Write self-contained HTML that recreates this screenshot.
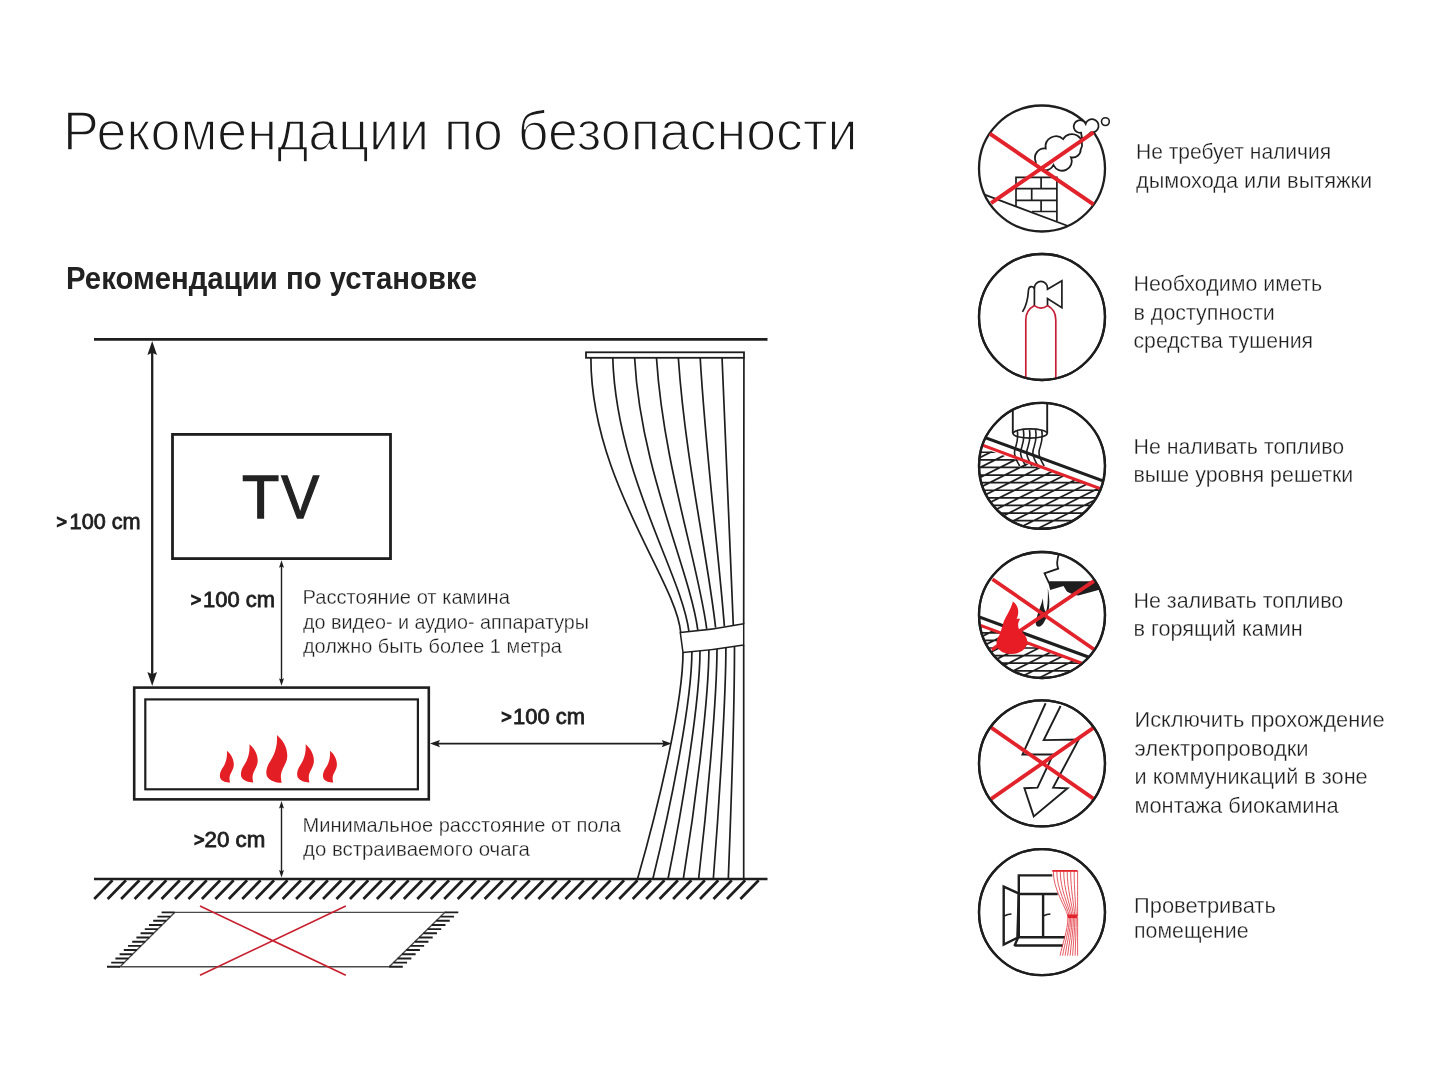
<!DOCTYPE html>
<html><head><meta charset="utf-8"><title>Рекомендации по безопасности</title>
<style>
html,body{margin:0;padding:0;background:#fff;width:1440px;height:1080px;overflow:hidden}
svg{display:block;will-change:transform}
text{font-family:"Liberation Sans",sans-serif}
</style></head><body>
<svg width="1440" height="1080" viewBox="0 0 1440 1080">
<defs><clipPath id="c0"><circle cx="1042.0" cy="168.5" r="63.0"/></clipPath>
<clipPath id="c1"><circle cx="1042.0" cy="317.0" r="63.0"/></clipPath>
<clipPath id="c2"><circle cx="1042.0" cy="465.8" r="63.0"/></clipPath>
<clipPath id="c3"><circle cx="1042.0" cy="615.0" r="63.0"/></clipPath>
<clipPath id="c4"><circle cx="1042.0" cy="763.4" r="63.0"/></clipPath>
<clipPath id="c5"><circle cx="1042.0" cy="912.2" r="63.0"/></clipPath></defs>
<rect width="1440" height="1080" fill="#fff"/>
<text x="63" y="149.7" font-size="56.1" font-weight="normal" fill="#1a1a1a" textLength="794.6" lengthAdjust="spacingAndGlyphs" stroke="#fff" stroke-width="1.5">Рекомендации по безопасности</text>
<text x="66" y="288.5" font-size="30.5" font-weight="bold" fill="#222" textLength="411" lengthAdjust="spacingAndGlyphs">Рекомендации по установке</text>
<line x1="94" y1="339.3" x2="767.5" y2="339.3" stroke="#1e1e1e" stroke-width="2.8"/>
<line x1="94" y1="879" x2="767.5" y2="879" stroke="#1e1e1e" stroke-width="2.7"/>
<path d="M94.20,899 L112.50,880.3 M107.66,899 L125.96,880.3 M121.12,899 L139.43,880.3 M134.59,899 L152.89,880.3 M148.05,899 L166.35,880.3 M161.51,899 L179.81,880.3 M174.97,899 L193.28,880.3 M188.44,899 L206.74,880.3 M201.90,899 L220.20,880.3 M215.36,899 L233.66,880.3 M228.82,899 L247.12,880.3 M242.29,899 L260.59,880.3 M255.75,899 L274.05,880.3 M269.21,899 L287.51,880.3 M282.68,899 L300.98,880.3 M296.14,899 L314.44,880.3 M309.60,899 L327.90,880.3 M323.06,899 L341.36,880.3 M336.52,899 L354.82,880.3 M349.99,899 L368.29,880.3 M363.45,899 L381.75,880.3 M376.91,899 L395.21,880.3 M390.37,899 L408.67,880.3 M403.84,899 L422.14,880.3 M417.30,899 L435.60,880.3 M430.76,899 L449.06,880.3 M444.22,899 L462.52,880.3 M457.69,899 L475.99,880.3 M471.15,899 L489.45,880.3 M484.61,899 L502.91,880.3 M498.07,899 L516.37,880.3 M511.54,899 L529.84,880.3 M525.00,899 L543.30,880.3 M538.46,899 L556.76,880.3 M551.92,899 L570.22,880.3 M565.39,899 L583.69,880.3 M578.85,899 L597.15,880.3 M592.31,899 L610.61,880.3 M605.77,899 L624.07,880.3 M619.24,899 L637.54,880.3 M632.70,899 L651.00,880.3 M646.16,899 L664.46,880.3 M659.62,899 L677.92,880.3 M673.09,899 L691.39,880.3 M686.55,899 L704.85,880.3 M700.01,899 L718.31,880.3 M713.48,899 L731.77,880.3 M726.94,899 L745.24,880.3 M740.40,899 L758.70,880.3" stroke="#1e1e1e" stroke-width="2.7" stroke-linecap="butt"/>
<rect x="172.5" y="434.4" width="218" height="124.2" fill="none" stroke="#1e1e1e" stroke-width="2.8"/>
<text x="260.55" y="517.7" font-size="61.1" text-anchor="middle" fill="#222" stroke="#222" stroke-width="1.3">T</text>
<text x="0" y="517.7" transform="translate(300.3,0) scale(0.93,1)" font-size="61.1" text-anchor="middle" fill="#222" stroke="#222" stroke-width="1.3">V</text>
<rect x="134.2" y="687.6" width="294.6" height="111.75" fill="none" stroke="#1e1e1e" stroke-width="2.6"/>
<rect x="145.3" y="699.4" width="272.6" height="89.9" fill="none" stroke="#1e1e1e" stroke-width="2.2"/>
<path transform="translate(226.9,750.8) scale(0.665)" d="M0,0 C6,5 11,13 10.3,22 C9.8,29 4.5,34 4,40 C3.8,44 4.5,46 4.8,47.8 C0,48 -7,46 -9.5,42 C-12,38 -10,31 -6.5,26 C-3,21 1,12 0,0 Z" fill="#e31e24"/>
<path transform="translate(249.4,744.2) scale(0.8)" d="M0,0 C6,5 11,13 10.3,22 C9.8,29 4.5,34 4,40 C3.8,44 4.5,46 4.8,47.8 C0,48 -7,46 -9.5,42 C-12,38 -10,31 -6.5,26 C-3,21 1,12 0,0 Z" fill="#e31e24"/>
<path transform="translate(276.9,734.9) scale(1.0)" d="M0,0 C6,5 11,13 10.3,22 C9.8,29 4.5,34 4,40 C3.8,44 4.5,46 4.8,47.8 C0,48 -7,46 -9.5,42 C-12,38 -10,31 -6.5,26 C-3,21 1,12 0,0 Z" fill="#e31e24"/>
<path transform="translate(305.6,744.2) scale(0.8)" d="M0,0 C6,5 11,13 10.3,22 C9.8,29 4.5,34 4,40 C3.8,44 4.5,46 4.8,47.8 C0,48 -7,46 -9.5,42 C-12,38 -10,31 -6.5,26 C-3,21 1,12 0,0 Z" fill="#e31e24"/>
<path transform="translate(330,750.8) scale(0.665)" d="M0,0 C6,5 11,13 10.3,22 C9.8,29 4.5,34 4,40 C3.8,44 4.5,46 4.8,47.8 C0,48 -7,46 -9.5,42 C-12,38 -10,31 -6.5,26 C-3,21 1,12 0,0 Z" fill="#e31e24"/>
<line x1="152.2" y1="350" x2="152.2" y2="676" stroke="#1e1e1e" stroke-width="2.3"/>
<path d="M152.2,341 L147.39999999999998,355 L152.2,352.7 L157.0,355 Z M152.2,686 L147.39999999999998,672 L152.2,674.3 L157.0,672 Z" fill="#1e1e1e"/>
<line x1="281.5" y1="565" x2="281.5" y2="682" stroke="#1e1e1e" stroke-width="1.4"/>
<path d="M281.5,560.3 L279.0,567.8 L281.5,566.5999999999999 L284.0,567.8 Z M281.5,685.8 L279.0,678.3 L281.5,679.5 L284.0,678.3 Z" fill="#1e1e1e"/>
<line x1="281.5" y1="806" x2="281.5" y2="874" stroke="#1e1e1e" stroke-width="1.4"/>
<path d="M281.5,801 L279.0,808.5 L281.5,807.3 L284.0,808.5 Z M281.5,877.5 L279.0,870.0 L281.5,871.2 L284.0,870.0 Z" fill="#1e1e1e"/>
<line x1="436" y1="743.6" x2="665" y2="743.6" stroke="#1e1e1e" stroke-width="1.9"/>
<path d="M430,743.6 L440,739.9 L438.2,743.6 L440,747.3000000000001 Z M671.7,743.6 L661.7,739.9 L663.5,743.6 L661.7,747.3000000000001 Z" fill="#1e1e1e"/>
<text x="56.6" y="527.9" font-size="18" fill="#1e1e1e" stroke="#1e1e1e" stroke-width="1.1">&gt;</text>
<text x="69.6" y="528.8" font-size="22" font-weight="normal" fill="#1e1e1e" textLength="70.99999999999999" lengthAdjust="spacingAndGlyphs" stroke="#1e1e1e" stroke-width="0.8">100 cm</text>
<text x="190.70000000000002" y="606.4" font-size="18" fill="#1e1e1e" stroke="#1e1e1e" stroke-width="1.1">&gt;</text>
<text x="203.0" y="607.3" font-size="22" font-weight="normal" fill="#1e1e1e" textLength="72.00000000000003" lengthAdjust="spacingAndGlyphs" stroke="#1e1e1e" stroke-width="0.8">100 cm</text>
<text x="501.15" y="723.3000000000001" font-size="18" fill="#1e1e1e" stroke="#1e1e1e" stroke-width="1.1">&gt;</text>
<text x="513.0" y="724.2" font-size="22" font-weight="normal" fill="#1e1e1e" textLength="71.99999999999997" lengthAdjust="spacingAndGlyphs" stroke="#1e1e1e" stroke-width="0.8">100 cm</text>
<text x="194.1" y="845.6" font-size="18" fill="#1e1e1e" stroke="#1e1e1e" stroke-width="1.1">&gt;</text>
<text x="204.60000000000002" y="846.5" font-size="22" font-weight="normal" fill="#1e1e1e" textLength="60.79999999999999" lengthAdjust="spacingAndGlyphs" stroke="#1e1e1e" stroke-width="0.8">20 cm</text>
<text x="302.5" y="604.4" font-size="21.0" font-weight="normal" fill="#1e1e1e" textLength="207.4" lengthAdjust="spacingAndGlyphs" stroke="#fff" stroke-width="0.3">Расстояние от камина</text>
<text x="303" y="628.9" font-size="21.0" font-weight="normal" fill="#1e1e1e" textLength="286" lengthAdjust="spacingAndGlyphs" stroke="#fff" stroke-width="0.3">до видео- и аудио- аппаратуры</text>
<text x="303" y="653.3" font-size="21.0" font-weight="normal" fill="#1e1e1e" textLength="258.8" lengthAdjust="spacingAndGlyphs" stroke="#fff" stroke-width="0.3">должно быть более 1 метра</text>
<text x="302.5" y="831.7" font-size="21.0" font-weight="normal" fill="#1e1e1e" textLength="318.4" lengthAdjust="spacingAndGlyphs" stroke="#fff" stroke-width="0.3">Минимальное расстояние от пола</text>
<text x="303" y="855.5" font-size="21.0" font-weight="normal" fill="#1e1e1e" textLength="226.8" lengthAdjust="spacingAndGlyphs" stroke="#fff" stroke-width="0.3">до встраиваемого очага</text>
<path d="M174.6,912.4 L444.7,912.4 L389.2,966.8 L120,966.8 Z" fill="none" stroke="#4a4a4a" stroke-width="1.4"/>
<path d="M161.60,912.40 L174.60,912.40 M444.70,912.40 L458.30,912.40 M157.40,916.58 L170.40,916.58 M440.43,916.58 L454.03,916.58 M153.20,920.77 L166.20,920.77 M436.16,920.77 L449.76,920.77 M149.00,924.95 L162.00,924.95 M431.89,924.95 L445.49,924.95 M144.80,929.14 L157.80,929.14 M427.62,929.14 L441.22,929.14 M140.60,933.32 L153.60,933.32 M423.35,933.32 L436.95,933.32 M136.40,937.51 L149.40,937.51 M419.08,937.51 L432.68,937.51 M132.20,941.69 L145.20,941.69 M414.82,941.69 L428.42,941.69 M128.00,945.88 L141.00,945.88 M410.55,945.88 L424.15,945.88 M123.80,950.06 L136.80,950.06 M406.28,950.06 L419.88,950.06 M119.60,954.25 L132.60,954.25 M402.01,954.25 L415.61,954.25 M115.40,958.43 L128.40,958.43 M397.74,958.43 L411.34,958.43 M111.20,962.62 L124.20,962.62 M393.47,962.62 L407.07,962.62 M107.00,966.80 L120.00,966.80 M389.20,966.80 L402.80,966.80" stroke="#1e1e1e" stroke-width="1.9"/>
<path d="M200,906.1 L345.8,975.2 M200,975.2 L345.8,906.1" stroke="#c8202f" stroke-width="1.7"/>
<rect x="586" y="352.3" width="158" height="5.5" fill="#fff" stroke="#1e1e1e" stroke-width="1.8"/>
<path d="M590.90,358 C590.90,480.00 676.03,580.00 680.70,632.54 M683.00,652.60 C683.00,700.60 660.25,800 637.50,879 M612.76,358 C616.39,475.59 681.88,574.32 688.90,631.39 M691.90,651.47 C691.90,699.47 672.35,800 652.80,879 M634.62,358 C640.64,471.06 689.44,568.41 697.80,630.14 M700.00,650.44 C700.00,698.44 684.00,800 668.00,879 M656.48,358 C663.65,466.41 698.03,562.26 706.70,628.89 M708.90,649.31 C708.90,697.31 696.10,800 683.30,879 M678.34,358 C685.44,461.65 707.67,555.86 715.60,627.64 M717.00,648.29 C717.00,696.29 707.80,800 698.60,879 M700.20,358 C705.96,456.76 718.28,549.24 724.40,626.41 M725.90,647.16 C725.90,695.16 719.60,800 713.30,879 M722.06,358 C725.27,451.76 730.01,542.38 733.30,625.16 M734.50,646.07 C734.50,694.07 731.40,800 728.30,879 M743.92,358 C743.85,446.57 743.77,535.13 743.70,623.70 M743.70,644.90 C743.70,692.90 743.70,800 743.70,879" fill="none" stroke="#1e1e1e" stroke-width="1.7"/>
<path d="M680.3,632.6 Q712,630 743.7,623.7 L743.7,644.9 Q713,650 683,652.6 Z" fill="#fff" stroke="#1e1e1e" stroke-width="1.5"/>
<text x="1136" y="159.4" font-size="22.1" font-weight="normal" fill="#1e1e1e" textLength="195.20000000000002" lengthAdjust="spacingAndGlyphs" stroke="#fff" stroke-width="0.3">Не требует наличия</text>
<text x="1136" y="187.8" font-size="22.1" font-weight="normal" fill="#1e1e1e" textLength="236.20000000000002" lengthAdjust="spacingAndGlyphs" stroke="#fff" stroke-width="0.3">дымохода или вытяжки</text>
<text x="1133.5" y="290.7" font-size="22.1" font-weight="normal" fill="#1e1e1e" textLength="188.60000000000002" lengthAdjust="spacingAndGlyphs" stroke="#fff" stroke-width="0.3">Необходимо иметь</text>
<text x="1133.5" y="319.5" font-size="22.1" font-weight="normal" fill="#1e1e1e" textLength="141.3" lengthAdjust="spacingAndGlyphs" stroke="#fff" stroke-width="0.3">в доступности</text>
<text x="1133.5" y="348.3" font-size="22.1" font-weight="normal" fill="#1e1e1e" textLength="179.5" lengthAdjust="spacingAndGlyphs" stroke="#fff" stroke-width="0.3">средства тушения</text>
<text x="1133.5" y="453.7" font-size="22.1" font-weight="normal" fill="#1e1e1e" textLength="210.60000000000002" lengthAdjust="spacingAndGlyphs" stroke="#fff" stroke-width="0.3">Не наливать топливо</text>
<text x="1133.5" y="482" font-size="22.1" font-weight="normal" fill="#1e1e1e" textLength="219.8" lengthAdjust="spacingAndGlyphs" stroke="#fff" stroke-width="0.3">выше уровня решетки</text>
<text x="1133.5" y="608" font-size="22.1" font-weight="normal" fill="#1e1e1e" textLength="209.8" lengthAdjust="spacingAndGlyphs" stroke="#fff" stroke-width="0.3">Не заливать топливо</text>
<text x="1133.5" y="636.3" font-size="22.1" font-weight="normal" fill="#1e1e1e" textLength="169.3" lengthAdjust="spacingAndGlyphs" stroke="#fff" stroke-width="0.3">в горящий камин</text>
<text x="1134.5" y="727.2" font-size="22.1" font-weight="normal" fill="#1e1e1e" textLength="250.10000000000002" lengthAdjust="spacingAndGlyphs" stroke="#fff" stroke-width="0.3">Исключить прохождение</text>
<text x="1134.5" y="755.9" font-size="22.1" font-weight="normal" fill="#1e1e1e" textLength="174.10000000000002" lengthAdjust="spacingAndGlyphs" stroke="#fff" stroke-width="0.3">электропроводки</text>
<text x="1134.5" y="784" font-size="22.1" font-weight="normal" fill="#1e1e1e" textLength="233.20000000000002" lengthAdjust="spacingAndGlyphs" stroke="#fff" stroke-width="0.3">и коммуникаций в зоне</text>
<text x="1134.5" y="813" font-size="22.1" font-weight="normal" fill="#1e1e1e" textLength="204.10000000000002" lengthAdjust="spacingAndGlyphs" stroke="#fff" stroke-width="0.3">монтажа биокамина</text>
<text x="1134" y="912.7" font-size="22.1" font-weight="normal" fill="#1e1e1e" textLength="141.8" lengthAdjust="spacingAndGlyphs" stroke="#fff" stroke-width="0.3">Проветривать</text>
<text x="1134" y="938.1" font-size="22.1" font-weight="normal" fill="#1e1e1e" textLength="114.6" lengthAdjust="spacingAndGlyphs" stroke="#fff" stroke-width="0.3">помещение</text>
<circle cx="1042.0" cy="168.5" r="63.0" fill="#fff" stroke="#1e1e1e" stroke-width="2.3"/>
<circle cx="1042.0" cy="317.0" r="63.0" fill="#fff" stroke="#1e1e1e" stroke-width="2.3"/>
<circle cx="1042.0" cy="465.8" r="63.0" fill="#fff" stroke="#1e1e1e" stroke-width="2.3"/>
<circle cx="1042.0" cy="615.0" r="63.0" fill="#fff" stroke="#1e1e1e" stroke-width="2.3"/>
<circle cx="1042.0" cy="763.4" r="63.0" fill="#fff" stroke="#1e1e1e" stroke-width="2.3"/>
<circle cx="1042.0" cy="912.2" r="63.0" fill="#fff" stroke="#1e1e1e" stroke-width="2.3"/>
<g clip-path="url(#c0)">
<path d="M975,191 L1072,227.5" stroke="#1e1e1e" stroke-width="1.8" fill="none"/>
<path d="M1016,206 L1016,177.4 L1056.9,177.4 L1056.9,221 M1016,188.6 L1056.9,188.6 M1016,200.4 L1056.9,200.4 M1032,211.5 L1056.9,211.5 M1041.1,177.4 L1041.1,188.6 M1031.7,188.6 L1031.7,200.4 M1041.1,200.4 L1041.1,211.5" stroke="#1e1e1e" stroke-width="1.7" fill="none"/>
</g>
<path d="M1035.5,161 A9.5,9.5 0 0 1 1045.7,148.5 A10.5,10.5 0 0 1 1063.2,139.1 A9.8,9.8 0 0 1 1080.7,149.5 A8,8 0 0 1 1071,157.3 A8.6,8.6 0 0 1 1053.5,165 A9.5,9.5 0 0 1 1035.5,161 Z" fill="#fff" stroke="#1e1e1e" stroke-width="1.8"/>
<path d="M1082,138.5 L1081.1,132.7 A6.3,6.3 0 1 1 1085.7,123.8 A6.6,6.6 0 1 1 1091.05,132.3 L1086,137 Z" fill="#fff" stroke="#1e1e1e" stroke-width="1.8"/>
<circle cx="1105.4" cy="121.6" r="3.9" fill="#fff" stroke="#1e1e1e" stroke-width="1.6"/>
<path d="M989.8,133.7 L1093.5,204.4 M991.1,203.1 L1093.5,132.4" stroke="#e3232b" stroke-width="4"/>
<g clip-path="url(#c1)">
<path d="M1025.8,380 L1025.8,320 C1025.8,312 1030,308 1034.4,305.6 Q1041.1,310.5 1047.5,305.6 C1052,308 1055.8,312 1055.8,320 L1055.8,380" fill="none" stroke="#c41f36" stroke-width="1.7"/>
</g>
<path d="M1034.4,305.3 L1034.4,288 A6.55,6.55 0 0 1 1047.5,288 L1047.5,289.2 L1061.9,280.8 L1061.9,307.8 L1047.5,298.6 L1047.5,305.3" fill="none" stroke="#1e1e1e" stroke-width="1.7" stroke-linejoin="miter"/>
<path d="M1034.4,288.5 C1033,286 1029,285.5 1028.5,290 C1028,298 1027,305 1022.5,311.9" fill="none" stroke="#1e1e1e" stroke-width="1.7"/>
<clipPath id="g3"><path d="M970,444 L1100.3,488.9 L1120,600 L970,600 Z"/></clipPath>
<g clip-path="url(#c2)"><g clip-path="url(#g3)">
<path d="M970,437.05 L1115,437.05 M970,444.65 L1115,444.65 M970,452.25 L1115,452.25 M970,459.85 L1115,459.85 M970,467.45 L1115,467.45 M970,475.05 L1115,475.05 M970,482.65 L1115,482.65 M970,490.25 L1115,490.25 M970,497.85 L1115,497.85 M970,505.45 L1115,505.45 M970,513.05 L1115,513.05 M970,520.65 L1115,520.65 M970,528.25 L1115,528.25 M970,535.85 L1115,535.85 M970,543.45 L1115,543.45 M970,551.05 L1115,551.05 M815,540 L1015,440 M835,540 L1035,440 M855,540 L1055,440 M875,540 L1075,440 M895,540 L1095,440 M915,540 L1115,440 M935,540 L1135,440 M955,540 L1155,440 M975,540 L1175,440 M995,540 L1195,440 M1015,540 L1215,440 M1035,540 L1235,440 M1055,540 L1255,440 M1075,540 L1275,440 M1095,540 L1295,440 M1115,540 L1315,440 M1135,540 L1335,440 M1155,540 L1355,440 M1175,540 L1375,440 M1195,540 L1395,440" stroke="#1e1e1e" stroke-width="1.7" fill="none"/>
</g>
<path d="M1012.8,390 L1012.8,433.5 M1047.2,390 L1047.2,433.5" stroke="#1e1e1e" stroke-width="1.9" fill="none"/>
<ellipse cx="1030.1" cy="433.5" rx="17" ry="4.6" fill="#fff" stroke="#1e1e1e" stroke-width="1.7"/>
<path d="M1017.20,430 C1018.20,436 1017.70,441 1015.70,447 C1013.70,452 1013.70,456 1019.70,466 M1023.32,430 C1024.32,436 1023.82,441 1021.82,447 C1019.82,452 1019.82,456 1025.82,466 M1029.44,430 C1030.44,436 1029.94,441 1027.94,447 C1025.94,452 1025.94,456 1031.94,466 M1035.56,430 C1036.56,436 1036.06,441 1034.06,447 C1032.06,452 1032.06,456 1038.06,466 M1041.68,430 C1042.68,436 1042.18,441 1040.18,447 C1038.18,452 1038.18,456 1044.18,466" stroke="#1e1e1e" stroke-width="1.6" fill="none"/>
<path d="M970,432 L1110,483.5" stroke="#1e1e1e" stroke-width="3"/>
<path d="M970,440.6 L1110,492.2" stroke="#e3232b" stroke-width="3.1"/>
</g>
<clipPath id="g4"><path d="M970,621.5 L1100,670 L1120,700 L970,700 Z"/></clipPath>
<g clip-path="url(#c3)"><g clip-path="url(#g4)">
<path d="M970,625.20 L1115,625.20 M970,632.80 L1115,632.80 M970,640.40 L1115,640.40 M970,648.00 L1115,648.00 M970,655.60 L1115,655.60 M970,663.20 L1115,663.20 M970,670.80 L1115,670.80 M970,678.40 L1115,678.40 M970,686.00 L1115,686.00 M970,693.60 L1115,693.60 M970,701.20 L1115,701.20 M815,690 L1015,590 M835,690 L1035,590 M855,690 L1055,590 M875,690 L1075,590 M895,690 L1095,590 M915,690 L1115,590 M935,690 L1135,590 M955,690 L1155,590 M975,690 L1175,590 M995,690 L1195,590 M1015,690 L1215,590 M1035,690 L1235,590 M1055,690 L1255,590 M1075,690 L1275,590 M1095,690 L1295,590 M1115,690 L1315,590 M1135,690 L1335,590 M1155,690 L1355,590 M1175,690 L1375,590 M1195,690 L1395,590" stroke="#1e1e1e" stroke-width="1.7" fill="none"/>
</g>
<path d="M970,613.6 L1100,661.3" stroke="#1e1e1e" stroke-width="3.2"/>
<path d="M970,621.5 L1100,670" stroke="#e3232b" stroke-width="3"/>
<path d="M1059.8,552 C1057,558 1056.5,564 1058.2,568.6 L1044.5,573.3 L1048.7,582.3 L1110,582.3 L1110,552 Z" fill="#fff" stroke="#1e1e1e" stroke-width="1.8" stroke-linejoin="miter"/>
<path d="M1047.9,581.4 L1110,581.4 L1110,589 L1099.4,589.7 L1078.3,595.5 C1074,595 1069,593 1066.7,591.3 L1063.5,586 L1050.2,589.9 Z" fill="#1e1e1e"/>
<path d="M1047.8,588 C1050,600 1051,612 1043,624 C1040,628 1034.5,628 1036,620 C1038,612 1041,606 1043,598 C1043,604 1044,610 1046,612 C1048,606 1048,596 1047.8,588 Z" fill="#1e1e1e"/>
<path d="M992.5,579.25 L1095.6,650.5 M1095.6,579.9 L991.8,649.8" stroke="#e3232b" stroke-width="3.7"/>
<path d="M1012.9,601.6 C1018,605 1020,612 1016.5,619 C1018,618 1019,618.5 1020.1,619.1 C1018,622 1017.5,626 1019,629 C1022,632 1027.5,636 1027.3,642 C1027,649 1020,654 1011,654 C1002,654 996,649 996.5,642 C997,638 999,636 1000,634 C1001,631 1002,627 1003,624 C1005,617 1010,612 1012.9,601.6 Z" fill="#e81c24"/>
</g>
<g clip-path="url(#c4)">
<path d="M1045.6,703.25 L1022.5,754.5 L1053.1,754.5 L1037.5,787.6 L1024.4,788.25 L1033.75,816.4 L1067.5,788.25 L1053.1,787.6 L1078.75,739.5 L1043.75,740.1 L1060.6,706" fill="none" stroke="#1e1e1e" stroke-width="1.9" stroke-linejoin="miter"/>
<path d="M991.25,727.6 L1093.75,798.9 M991.25,798.9 L1093.75,727.6" stroke="#e3232b" stroke-width="3.8"/>
</g>
<path d="M1018.8,875.4 L1052.3,875.4 M1018.8,874.2 L1018.8,938.5 M1017.6,894 L1057.7,894 M1043.1,894 L1043.1,937.3 M1017.6,937.3 L1065,937.3 M1014.4,945.5 L1063,945.5 M1014.4,946 L1018,937.8" stroke="#1e1e1e" stroke-width="2.4" fill="none"/>
<path d="M1003.7,886.7 L1018.8,893.5 L1017.4,937.7 L1003.7,944.5 Z" fill="none" stroke="#1e1e1e" stroke-width="2.4" stroke-linejoin="miter"/>
<path d="M1004.2,916 Q1008,914 1011.5,913.9 M1043.1,916 Q1047,914 1050.4,913.9" stroke="#1e1e1e" stroke-width="1.5" fill="none"/>
<path d="M1053.30,871 C1053.30,890 1064.90,905 1067.90,915.9 M1067.90,918 C1067.90,930 1062.10,945 1060.10,955.7 M1056.77,871 C1056.77,890 1066.71,905 1069.29,915.9 M1069.29,918 C1069.29,930 1064.31,945 1062.60,955.7 M1060.24,871 C1060.24,890 1068.53,905 1070.67,915.9 M1070.67,918 C1070.67,930 1066.53,945 1065.10,955.7 M1063.71,871 C1063.71,890 1070.34,905 1072.06,915.9 M1072.06,918 C1072.06,930 1068.74,945 1067.60,955.7 M1067.19,871 C1067.19,890 1072.16,905 1073.44,915.9 M1073.44,918 C1073.44,930 1070.96,945 1070.10,955.7 M1070.66,871 C1070.66,890 1073.97,905 1074.83,915.9 M1074.83,918 C1074.83,930 1073.17,945 1072.60,955.7 M1074.13,871 C1074.13,890 1075.79,905 1076.21,915.9 M1076.21,918 C1076.21,930 1075.39,945 1075.10,955.7 M1077.60,871 C1077.60,890 1077.60,905 1077.60,915.9 M1077.60,918 C1077.60,930 1077.60,945 1077.60,955.7" stroke="#e0303a" stroke-width="0.8" fill="none"/>
<path d="M1052.3,870.9 L1077.6,870.9" stroke="#e3232b" stroke-width="1.8"/>
<path d="M1067.4,916.3 L1077.6,916.3" stroke="#e3232b" stroke-width="3.6"/>
<circle cx="1042.0" cy="317.0" r="63.0" fill="none" stroke="#1e1e1e" stroke-width="2.3"/>
<circle cx="1042.0" cy="465.8" r="63.0" fill="none" stroke="#1e1e1e" stroke-width="2.3"/>
<circle cx="1042.0" cy="615.0" r="63.0" fill="none" stroke="#1e1e1e" stroke-width="2.3"/>
<circle cx="1042.0" cy="763.4" r="63.0" fill="none" stroke="#1e1e1e" stroke-width="2.3"/>
<circle cx="1042.0" cy="912.2" r="63.0" fill="none" stroke="#1e1e1e" stroke-width="2.3"/>
</svg>
</body></html>
